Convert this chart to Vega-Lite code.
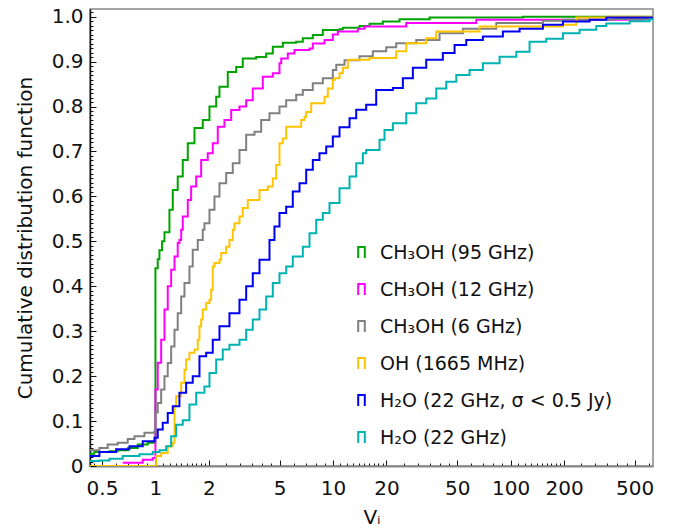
{
  "$schema": "https://vega.github.io/schema/vega-lite/v6.json",
  "width": 563,
  "height": 457,
  "autosize": {"type": "none"},
  "padding": {"left": 90, "top": 9, "right": 20, "bottom": 65},
  "config": {
    "font": "DejaVu Sans",
    "view": {"stroke": "#888888", "strokeWidth": 1.5},
    "axis": {"labelFont": "DejaVu Sans", "titleFont": "DejaVu Sans", "labelColor": "#111", "titleColor": "#111", "grid": false}
  },
  "data": {"values": [
    {"s": "CH₃OH (95 GHz)", "v": 0.3, "f": 0.027},
    {"s": "CH₃OH (95 GHz)", "v": 0.453, "f": 0.031},
    {"s": "CH₃OH (95 GHz)", "v": 0.55, "f": 0.033},
    {"s": "CH₃OH (95 GHz)", "v": 0.613, "f": 0.035},
    {"s": "CH₃OH (95 GHz)", "v": 0.7, "f": 0.04},
    {"s": "CH₃OH (95 GHz)", "v": 0.795, "f": 0.048},
    {"s": "CH₃OH (95 GHz)", "v": 0.905, "f": 0.052},
    {"s": "CH₃OH (95 GHz)", "v": 0.987, "f": 0.055},
    {"s": "CH₃OH (95 GHz)", "v": 1.0, "f": 0.44},
    {"s": "CH₃OH (95 GHz)", "v": 1.03, "f": 0.46},
    {"s": "CH₃OH (95 GHz)", "v": 1.053, "f": 0.48},
    {"s": "CH₃OH (95 GHz)", "v": 1.09, "f": 0.5},
    {"s": "CH₃OH (95 GHz)", "v": 1.124, "f": 0.52},
    {"s": "CH₃OH (95 GHz)", "v": 1.199, "f": 0.57},
    {"s": "CH₃OH (95 GHz)", "v": 1.252, "f": 0.614},
    {"s": "CH₃OH (95 GHz)", "v": 1.335, "f": 0.644},
    {"s": "CH₃OH (95 GHz)", "v": 1.425, "f": 0.681},
    {"s": "CH₃OH (95 GHz)", "v": 1.521, "f": 0.718},
    {"s": "CH₃OH (95 GHz)", "v": 1.659, "f": 0.752},
    {"s": "CH₃OH (95 GHz)", "v": 1.847, "f": 0.77},
    {"s": "CH₃OH (95 GHz)", "v": 2.015, "f": 0.8},
    {"s": "CH₃OH (95 GHz)", "v": 2.198, "f": 0.822},
    {"s": "CH₃OH (95 GHz)", "v": 2.294, "f": 0.844},
    {"s": "CH₃OH (95 GHz)", "v": 2.555, "f": 0.877},
    {"s": "CH₃OH (95 GHz)", "v": 2.849, "f": 0.888},
    {"s": "CH₃OH (95 GHz)", "v": 3.103, "f": 0.907},
    {"s": "CH₃OH (95 GHz)", "v": 3.692, "f": 0.91},
    {"s": "CH₃OH (95 GHz)", "v": 4.204, "f": 0.918},
    {"s": "CH₃OH (95 GHz)", "v": 4.58, "f": 0.933},
    {"s": "CH₃OH (95 GHz)", "v": 5.214, "f": 0.942},
    {"s": "CH₃OH (95 GHz)", "v": 6.204, "f": 0.944},
    {"s": "CH₃OH (95 GHz)", "v": 6.76, "f": 0.952},
    {"s": "CH₃OH (95 GHz)", "v": 7.696, "f": 0.959},
    {"s": "CH₃OH (95 GHz)", "v": 8.76, "f": 0.97},
    {"s": "CH₃OH (95 GHz)", "v": 10.88, "f": 0.972},
    {"s": "CH₃OH (95 GHz)", "v": 11.36, "f": 0.975},
    {"s": "CH₃OH (95 GHz)", "v": 14.1, "f": 0.979},
    {"s": "CH₃OH (95 GHz)", "v": 16.06, "f": 0.984},
    {"s": "CH₃OH (95 GHz)", "v": 19.08, "f": 0.989},
    {"s": "CH₃OH (95 GHz)", "v": 23.69, "f": 0.994},
    {"s": "CH₃OH (95 GHz)", "v": 34.98, "f": 0.998},
    {"s": "CH₃OH (95 GHz)", "v": 117.3, "f": 1.0},
    {"s": "CH₃OH (95 GHz)", "v": 700, "f": 1.0},

    {"s": "CH₃OH (12 GHz)", "v": 0.654, "f": 0.007},
    {"s": "CH₃OH (12 GHz)", "v": 0.848, "f": 0.014},
    {"s": "CH₃OH (12 GHz)", "v": 0.966, "f": 0.018},
    {"s": "CH₃OH (12 GHz)", "v": 1.0, "f": 0.17},
    {"s": "CH₃OH (12 GHz)", "v": 1.03, "f": 0.23},
    {"s": "CH₃OH (12 GHz)", "v": 1.077, "f": 0.281},
    {"s": "CH₃OH (12 GHz)", "v": 1.124, "f": 0.348},
    {"s": "CH₃OH (12 GHz)", "v": 1.173, "f": 0.4},
    {"s": "CH₃OH (12 GHz)", "v": 1.226, "f": 0.437},
    {"s": "CH₃OH (12 GHz)", "v": 1.28, "f": 0.466},
    {"s": "CH₃OH (12 GHz)", "v": 1.335, "f": 0.496},
    {"s": "CH₃OH (12 GHz)", "v": 1.365, "f": 0.503},
    {"s": "CH₃OH (12 GHz)", "v": 1.396, "f": 0.526},
    {"s": "CH₃OH (12 GHz)", "v": 1.425, "f": 0.555},
    {"s": "CH₃OH (12 GHz)", "v": 1.521, "f": 0.592},
    {"s": "CH₃OH (12 GHz)", "v": 1.589, "f": 0.622},
    {"s": "CH₃OH (12 GHz)", "v": 1.696, "f": 0.644},
    {"s": "CH₃OH (12 GHz)", "v": 1.809, "f": 0.681},
    {"s": "CH₃OH (12 GHz)", "v": 1.97, "f": 0.696},
    {"s": "CH₃OH (12 GHz)", "v": 2.103, "f": 0.718},
    {"s": "CH₃OH (12 GHz)", "v": 2.244, "f": 0.755},
    {"s": "CH₃OH (12 GHz)", "v": 2.447, "f": 0.77},
    {"s": "CH₃OH (12 GHz)", "v": 2.67, "f": 0.792},
    {"s": "CH₃OH (12 GHz)", "v": 2.973, "f": 0.8},
    {"s": "CH₃OH (12 GHz)", "v": 3.243, "f": 0.814},
    {"s": "CH₃OH (12 GHz)", "v": 3.533, "f": 0.84},
    {"s": "CH₃OH (12 GHz)", "v": 4.023, "f": 0.866},
    {"s": "CH₃OH (12 GHz)", "v": 4.58, "f": 0.874},
    {"s": "CH₃OH (12 GHz)", "v": 4.996, "f": 0.896},
    {"s": "CH₃OH (12 GHz)", "v": 5.108, "f": 0.907},
    {"s": "CH₃OH (12 GHz)", "v": 5.565, "f": 0.918},
    {"s": "CH₃OH (12 GHz)", "v": 6.069, "f": 0.926},
    {"s": "CH₃OH (12 GHz)", "v": 7.374, "f": 0.929},
    {"s": "CH₃OH (12 GHz)", "v": 7.696, "f": 0.94},
    {"s": "CH₃OH (12 GHz)", "v": 8.957, "f": 0.948},
    {"s": "CH₃OH (12 GHz)", "v": 9.975, "f": 0.96},
    {"s": "CH₃OH (12 GHz)", "v": 10.64, "f": 0.967},
    {"s": "CH₃OH (12 GHz)", "v": 13.8, "f": 0.973},
    {"s": "CH₃OH (12 GHz)", "v": 15.05, "f": 0.978},
    {"s": "CH₃OH (12 GHz)", "v": 25.85, "f": 0.986},
    {"s": "CH₃OH (12 GHz)", "v": 64.1, "f": 0.993},
    {"s": "CH₃OH (12 GHz)", "v": 556.5, "f": 0.997},
    {"s": "CH₃OH (12 GHz)", "v": 700, "f": 0.997},

    {"s": "CH₃OH (6 GHz)", "v": 0.3, "f": 0.035},
    {"s": "CH₃OH (6 GHz)", "v": 0.4836, "f": 0.04},
    {"s": "CH₃OH (6 GHz)", "v": 0.5385, "f": 0.048},
    {"s": "CH₃OH (6 GHz)", "v": 0.6133, "f": 0.052},
    {"s": "CH₃OH (6 GHz)", "v": 0.698, "f": 0.06},
    {"s": "CH₃OH (6 GHz)", "v": 0.7615, "f": 0.066},
    {"s": "CH₃OH (6 GHz)", "v": 0.867, "f": 0.074},
    {"s": "CH₃OH (6 GHz)", "v": 0.987, "f": 0.076},
    {"s": "CH₃OH (6 GHz)", "v": 1.0, "f": 0.119},
    {"s": "CH₃OH (6 GHz)", "v": 1.03, "f": 0.14},
    {"s": "CH₃OH (6 GHz)", "v": 1.077, "f": 0.17},
    {"s": "CH₃OH (6 GHz)", "v": 1.124, "f": 0.2},
    {"s": "CH₃OH (6 GHz)", "v": 1.173, "f": 0.229},
    {"s": "CH₃OH (6 GHz)", "v": 1.226, "f": 0.266},
    {"s": "CH₃OH (6 GHz)", "v": 1.28, "f": 0.303},
    {"s": "CH₃OH (6 GHz)", "v": 1.335, "f": 0.34},
    {"s": "CH₃OH (6 GHz)", "v": 1.396, "f": 0.377},
    {"s": "CH₃OH (6 GHz)", "v": 1.457, "f": 0.407},
    {"s": "CH₃OH (6 GHz)", "v": 1.554, "f": 0.444},
    {"s": "CH₃OH (6 GHz)", "v": 1.622, "f": 0.481},
    {"s": "CH₃OH (6 GHz)", "v": 1.731, "f": 0.503},
    {"s": "CH₃OH (6 GHz)", "v": 1.847, "f": 0.526},
    {"s": "CH₃OH (6 GHz)", "v": 1.888, "f": 0.54},
    {"s": "CH₃OH (6 GHz)", "v": 2.015, "f": 0.57},
    {"s": "CH₃OH (6 GHz)", "v": 2.15, "f": 0.6},
    {"s": "CH₃OH (6 GHz)", "v": 2.294, "f": 0.629},
    {"s": "CH₃OH (6 GHz)", "v": 2.502, "f": 0.652},
    {"s": "CH₃OH (6 GHz)", "v": 2.726, "f": 0.674},
    {"s": "CH₃OH (6 GHz)", "v": 2.973, "f": 0.703},
    {"s": "CH₃OH (6 GHz)", "v": 3.243, "f": 0.737},
    {"s": "CH₃OH (6 GHz)", "v": 3.612, "f": 0.744},
    {"s": "CH₃OH (6 GHz)", "v": 3.94, "f": 0.77},
    {"s": "CH₃OH (6 GHz)", "v": 4.388, "f": 0.785},
    {"s": "CH₃OH (6 GHz)", "v": 4.996, "f": 0.8},
    {"s": "CH₃OH (6 GHz)", "v": 5.449, "f": 0.814},
    {"s": "CH₃OH (6 GHz)", "v": 6.204, "f": 0.826},
    {"s": "CH₃OH (6 GHz)", "v": 6.76, "f": 0.837},
    {"s": "CH₃OH (6 GHz)", "v": 7.696, "f": 0.852},
    {"s": "CH₃OH (6 GHz)", "v": 8.76, "f": 0.863},
    {"s": "CH₃OH (6 GHz)", "v": 9.975, "f": 0.881},
    {"s": "CH₃OH (6 GHz)", "v": 10.43, "f": 0.893},
    {"s": "CH₃OH (6 GHz)", "v": 11.61, "f": 0.903},
    {"s": "CH₃OH (6 GHz)", "v": 14.1, "f": 0.912},
    {"s": "CH₃OH (6 GHz)", "v": 16.76, "f": 0.923},
    {"s": "CH₃OH (6 GHz)", "v": 19.94, "f": 0.932},
    {"s": "CH₃OH (6 GHz)", "v": 22.7, "f": 0.941},
    {"s": "CH₃OH (6 GHz)", "v": 29.43, "f": 0.948},
    {"s": "CH₃OH (6 GHz)", "v": 39.81, "f": 0.963},
    {"s": "CH₃OH (6 GHz)", "v": 53.86, "f": 0.973},
    {"s": "CH₃OH (6 GHz)", "v": 83.07, "f": 0.986},
    {"s": "CH₃OH (6 GHz)", "v": 152.1, "f": 0.991},
    {"s": "CH₃OH (6 GHz)", "v": 197.1, "f": 0.993},
    {"s": "CH₃OH (6 GHz)", "v": 377, "f": 0.995},
    {"s": "CH₃OH (6 GHz)", "v": 600, "f": 0.999},
    {"s": "CH₃OH (6 GHz)", "v": 700, "f": 0.999},

    {"s": "OH (1665 MHz)", "v": 0.3, "f": 0.0},
    {"s": "OH (1665 MHz)", "v": 1.009, "f": 0.022},
    {"s": "OH (1665 MHz)", "v": 1.077, "f": 0.029},
    {"s": "OH (1665 MHz)", "v": 1.173, "f": 0.044},
    {"s": "OH (1665 MHz)", "v": 1.252, "f": 0.052},
    {"s": "OH (1665 MHz)", "v": 1.28, "f": 0.133},
    {"s": "OH (1665 MHz)", "v": 1.308, "f": 0.155},
    {"s": "OH (1665 MHz)", "v": 1.396, "f": 0.185},
    {"s": "OH (1665 MHz)", "v": 1.457, "f": 0.214},
    {"s": "OH (1665 MHz)", "v": 1.489, "f": 0.237},
    {"s": "OH (1665 MHz)", "v": 1.554, "f": 0.252},
    {"s": "OH (1665 MHz)", "v": 1.659, "f": 0.259},
    {"s": "OH (1665 MHz)", "v": 1.731, "f": 0.281},
    {"s": "OH (1665 MHz)", "v": 1.77, "f": 0.311},
    {"s": "OH (1665 MHz)", "v": 1.809, "f": 0.326},
    {"s": "OH (1665 MHz)", "v": 1.847, "f": 0.348},
    {"s": "OH (1665 MHz)", "v": 1.931, "f": 0.363},
    {"s": "OH (1665 MHz)", "v": 2.015, "f": 0.37},
    {"s": "OH (1665 MHz)", "v": 2.06, "f": 0.392},
    {"s": "OH (1665 MHz)", "v": 2.103, "f": 0.444},
    {"s": "OH (1665 MHz)", "v": 2.15, "f": 0.452},
    {"s": "OH (1665 MHz)", "v": 2.294, "f": 0.459},
    {"s": "OH (1665 MHz)", "v": 2.345, "f": 0.474},
    {"s": "OH (1665 MHz)", "v": 2.502, "f": 0.488},
    {"s": "OH (1665 MHz)", "v": 2.611, "f": 0.503},
    {"s": "OH (1665 MHz)", "v": 2.726, "f": 0.526},
    {"s": "OH (1665 MHz)", "v": 2.787, "f": 0.54},
    {"s": "OH (1665 MHz)", "v": 2.973, "f": 0.555},
    {"s": "OH (1665 MHz)", "v": 3.103, "f": 0.574},
    {"s": "OH (1665 MHz)", "v": 3.311, "f": 0.592},
    {"s": "OH (1665 MHz)", "v": 3.854, "f": 0.614},
    {"s": "OH (1665 MHz)", "v": 4.293, "f": 0.622},
    {"s": "OH (1665 MHz)", "v": 4.58, "f": 0.64},
    {"s": "OH (1665 MHz)", "v": 4.786, "f": 0.67},
    {"s": "OH (1665 MHz)", "v": 4.996, "f": 0.718},
    {"s": "OH (1665 MHz)", "v": 5.214, "f": 0.729},
    {"s": "OH (1665 MHz)", "v": 5.449, "f": 0.755},
    {"s": "OH (1665 MHz)", "v": 6.62, "f": 0.77},
    {"s": "OH (1665 MHz)", "v": 6.911, "f": 0.777},
    {"s": "OH (1665 MHz)", "v": 7.063, "f": 0.788},
    {"s": "OH (1665 MHz)", "v": 7.538, "f": 0.807},
    {"s": "OH (1665 MHz)", "v": 8.957, "f": 0.822},
    {"s": "OH (1665 MHz)", "v": 9.348, "f": 0.84},
    {"s": "OH (1665 MHz)", "v": 9.975, "f": 0.859},
    {"s": "OH (1665 MHz)", "v": 10.2, "f": 0.863},
    {"s": "OH (1665 MHz)", "v": 10.88, "f": 0.874},
    {"s": "OH (1665 MHz)", "v": 11.36, "f": 0.886},
    {"s": "OH (1665 MHz)", "v": 12.12, "f": 0.904},
    {"s": "OH (1665 MHz)", "v": 16.06, "f": 0.908},
    {"s": "OH (1665 MHz)", "v": 22.7, "f": 0.923},
    {"s": "OH (1665 MHz)", "v": 25.85, "f": 0.941},
    {"s": "OH (1665 MHz)", "v": 33.5, "f": 0.952},
    {"s": "OH (1665 MHz)", "v": 38.14, "f": 0.967},
    {"s": "OH (1665 MHz)", "v": 66.91, "f": 0.978},
    {"s": "OH (1665 MHz)", "v": 197.1, "f": 0.982},
    {"s": "OH (1665 MHz)", "v": 234.5, "f": 0.998},
    {"s": "OH (1665 MHz)", "v": 346.1, "f": 1.0},
    {"s": "OH (1665 MHz)", "v": 700, "f": 1.0},

    {"s": "H₂O (22 GHz, σ < 0.5 Jy)", "v": 0.3, "f": 0.022},
    {"s": "H₂O (22 GHz, σ < 0.5 Jy)", "v": 0.4836, "f": 0.031},
    {"s": "H₂O (22 GHz, σ < 0.5 Jy)", "v": 0.6006, "f": 0.037},
    {"s": "H₂O (22 GHz, σ < 0.5 Jy)", "v": 0.7139, "f": 0.044},
    {"s": "H₂O (22 GHz, σ < 0.5 Jy)", "v": 0.848, "f": 0.055},
    {"s": "H₂O (22 GHz, σ < 0.5 Jy)", "v": 0.987, "f": 0.063},
    {"s": "H₂O (22 GHz, σ < 0.5 Jy)", "v": 1.03, "f": 0.081},
    {"s": "H₂O (22 GHz, σ < 0.5 Jy)", "v": 1.099, "f": 0.096},
    {"s": "H₂O (22 GHz, σ < 0.5 Jy)", "v": 1.173, "f": 0.118},
    {"s": "H₂O (22 GHz, σ < 0.5 Jy)", "v": 1.252, "f": 0.133},
    {"s": "H₂O (22 GHz, σ < 0.5 Jy)", "v": 1.365, "f": 0.163},
    {"s": "H₂O (22 GHz, σ < 0.5 Jy)", "v": 1.489, "f": 0.185},
    {"s": "H₂O (22 GHz, σ < 0.5 Jy)", "v": 1.622, "f": 0.2},
    {"s": "H₂O (22 GHz, σ < 0.5 Jy)", "v": 1.77, "f": 0.244},
    {"s": "H₂O (22 GHz, σ < 0.5 Jy)", "v": 1.931, "f": 0.252},
    {"s": "H₂O (22 GHz, σ < 0.5 Jy)", "v": 2.103, "f": 0.281},
    {"s": "H₂O (22 GHz, σ < 0.5 Jy)", "v": 2.294, "f": 0.311},
    {"s": "H₂O (22 GHz, σ < 0.5 Jy)", "v": 2.611, "f": 0.34},
    {"s": "H₂O (22 GHz, σ < 0.5 Jy)", "v": 2.973, "f": 0.37},
    {"s": "H₂O (22 GHz, σ < 0.5 Jy)", "v": 3.243, "f": 0.4},
    {"s": "H₂O (22 GHz, σ < 0.5 Jy)", "v": 3.533, "f": 0.429},
    {"s": "H₂O (22 GHz, σ < 0.5 Jy)", "v": 3.854, "f": 0.459},
    {"s": "H₂O (22 GHz, σ < 0.5 Jy)", "v": 4.388, "f": 0.503},
    {"s": "H₂O (22 GHz, σ < 0.5 Jy)", "v": 4.68, "f": 0.533},
    {"s": "H₂O (22 GHz, σ < 0.5 Jy)", "v": 4.996, "f": 0.563},
    {"s": "H₂O (22 GHz, σ < 0.5 Jy)", "v": 5.449, "f": 0.577},
    {"s": "H₂O (22 GHz, σ < 0.5 Jy)", "v": 5.936, "f": 0.611},
    {"s": "H₂O (22 GHz, σ < 0.5 Jy)", "v": 6.477, "f": 0.629},
    {"s": "H₂O (22 GHz, σ < 0.5 Jy)", "v": 7.063, "f": 0.659},
    {"s": "H₂O (22 GHz, σ < 0.5 Jy)", "v": 7.696, "f": 0.681},
    {"s": "H₂O (22 GHz, σ < 0.5 Jy)", "v": 8.39, "f": 0.696},
    {"s": "H₂O (22 GHz, σ < 0.5 Jy)", "v": 9.156, "f": 0.711},
    {"s": "H₂O (22 GHz, σ < 0.5 Jy)", "v": 9.975, "f": 0.733},
    {"s": "H₂O (22 GHz, σ < 0.5 Jy)", "v": 10.88, "f": 0.754},
    {"s": "H₂O (22 GHz, σ < 0.5 Jy)", "v": 12.39, "f": 0.774},
    {"s": "H₂O (22 GHz, σ < 0.5 Jy)", "v": 13.51, "f": 0.793},
    {"s": "H₂O (22 GHz, σ < 0.5 Jy)", "v": 15.38, "f": 0.804},
    {"s": "H₂O (22 GHz, σ < 0.5 Jy)", "v": 17.51, "f": 0.837},
    {"s": "H₂O (22 GHz, σ < 0.5 Jy)", "v": 21.73, "f": 0.841},
    {"s": "H₂O (22 GHz, σ < 0.5 Jy)", "v": 24.74, "f": 0.863},
    {"s": "H₂O (22 GHz, σ < 0.5 Jy)", "v": 28.17, "f": 0.886},
    {"s": "H₂O (22 GHz, σ < 0.5 Jy)", "v": 33.5, "f": 0.904},
    {"s": "H₂O (22 GHz, σ < 0.5 Jy)", "v": 41.55, "f": 0.919},
    {"s": "H₂O (22 GHz, σ < 0.5 Jy)", "v": 48.37, "f": 0.937},
    {"s": "H₂O (22 GHz, σ < 0.5 Jy)", "v": 56.28, "f": 0.948},
    {"s": "H₂O (22 GHz, σ < 0.5 Jy)", "v": 69.82, "f": 0.956},
    {"s": "H₂O (22 GHz, σ < 0.5 Jy)", "v": 90.5, "f": 0.967},
    {"s": "H₂O (22 GHz, σ < 0.5 Jy)", "v": 112.4, "f": 0.973},
    {"s": "H₂O (22 GHz, σ < 0.5 Jy)", "v": 152.1, "f": 0.982},
    {"s": "H₂O (22 GHz, σ < 0.5 Jy)", "v": 197.1, "f": 0.989},
    {"s": "H₂O (22 GHz, σ < 0.5 Jy)", "v": 278.7, "f": 0.993},
    {"s": "H₂O (22 GHz, σ < 0.5 Jy)", "v": 346.1, "f": 0.998},
    {"s": "H₂O (22 GHz, σ < 0.5 Jy)", "v": 700, "f": 0.998},

    {"s": "H₂O (22 GHz)", "v": 0.3, "f": 0.011},
    {"s": "H₂O (22 GHz)", "v": 0.4836, "f": 0.012},
    {"s": "H₂O (22 GHz)", "v": 0.5506, "f": 0.016},
    {"s": "H₂O (22 GHz)", "v": 0.6542, "f": 0.022},
    {"s": "H₂O (22 GHz)", "v": 0.8127, "f": 0.026},
    {"s": "H₂O (22 GHz)", "v": 0.9656, "f": 0.031},
    {"s": "H₂O (22 GHz)", "v": 1.053, "f": 0.035},
    {"s": "H₂O (22 GHz)", "v": 1.149, "f": 0.044},
    {"s": "H₂O (22 GHz)", "v": 1.226, "f": 0.066},
    {"s": "H₂O (22 GHz)", "v": 1.308, "f": 0.092},
    {"s": "H₂O (22 GHz)", "v": 1.425, "f": 0.102},
    {"s": "H₂O (22 GHz)", "v": 1.554, "f": 0.137},
    {"s": "H₂O (22 GHz)", "v": 1.696, "f": 0.163},
    {"s": "H₂O (22 GHz)", "v": 1.888, "f": 0.177},
    {"s": "H₂O (22 GHz)", "v": 2.015, "f": 0.207},
    {"s": "H₂O (22 GHz)", "v": 2.198, "f": 0.237},
    {"s": "H₂O (22 GHz)", "v": 2.394, "f": 0.259},
    {"s": "H₂O (22 GHz)", "v": 2.611, "f": 0.27},
    {"s": "H₂O (22 GHz)", "v": 2.973, "f": 0.281},
    {"s": "H₂O (22 GHz)", "v": 3.243, "f": 0.303},
    {"s": "H₂O (22 GHz)", "v": 3.533, "f": 0.326},
    {"s": "H₂O (22 GHz)", "v": 3.854, "f": 0.348},
    {"s": "H₂O (22 GHz)", "v": 4.204, "f": 0.377},
    {"s": "H₂O (22 GHz)", "v": 4.58, "f": 0.407},
    {"s": "H₂O (22 GHz)", "v": 4.996, "f": 0.429},
    {"s": "H₂O (22 GHz)", "v": 5.449, "f": 0.444},
    {"s": "H₂O (22 GHz)", "v": 5.936, "f": 0.466},
    {"s": "H₂O (22 GHz)", "v": 6.76, "f": 0.488},
    {"s": "H₂O (22 GHz)", "v": 7.374, "f": 0.518},
    {"s": "H₂O (22 GHz)", "v": 8.042, "f": 0.548},
    {"s": "H₂O (22 GHz)", "v": 8.76, "f": 0.563},
    {"s": "H₂O (22 GHz)", "v": 9.556, "f": 0.585},
    {"s": "H₂O (22 GHz)", "v": 10.88, "f": 0.618},
    {"s": "H₂O (22 GHz)", "v": 12.39, "f": 0.644},
    {"s": "H₂O (22 GHz)", "v": 13.51, "f": 0.674},
    {"s": "H₂O (22 GHz)", "v": 14.72, "f": 0.696},
    {"s": "H₂O (22 GHz)", "v": 15.38, "f": 0.703},
    {"s": "H₂O (22 GHz)", "v": 18.28, "f": 0.726},
    {"s": "H₂O (22 GHz)", "v": 19.5, "f": 0.748},
    {"s": "H₂O (22 GHz)", "v": 21.73, "f": 0.763},
    {"s": "H₂O (22 GHz)", "v": 25.85, "f": 0.785},
    {"s": "H₂O (22 GHz)", "v": 29.43, "f": 0.807},
    {"s": "H₂O (22 GHz)", "v": 33.5, "f": 0.818},
    {"s": "H₂O (22 GHz)", "v": 38.14, "f": 0.84},
    {"s": "H₂O (22 GHz)", "v": 43.43, "f": 0.855},
    {"s": "H₂O (22 GHz)", "v": 49.45, "f": 0.87},
    {"s": "H₂O (22 GHz)", "v": 58.75, "f": 0.881},
    {"s": "H₂O (22 GHz)", "v": 69.82, "f": 0.896},
    {"s": "H₂O (22 GHz)", "v": 86.7, "f": 0.911},
    {"s": "H₂O (22 GHz)", "v": 107.7, "f": 0.922},
    {"s": "H₂O (22 GHz)", "v": 127.9, "f": 0.944},
    {"s": "H₂O (22 GHz)", "v": 158.9, "f": 0.951},
    {"s": "H₂O (22 GHz)", "v": 197.1, "f": 0.963},
    {"s": "H₂O (22 GHz)", "v": 244.7, "f": 0.971},
    {"s": "H₂O (22 GHz)", "v": 304, "f": 0.979},
    {"s": "H₂O (22 GHz)", "v": 346.1, "f": 0.985},
    {"s": "H₂O (22 GHz)", "v": 468.1, "f": 0.99},
    {"s": "H₂O (22 GHz)", "v": 606.9, "f": 0.994},
    {"s": "H₂O (22 GHz)", "v": 700, "f": 0.994}
  ]},
  "mark": {"type": "line", "interpolate": "step-after", "strokeWidth": 2, "clip": true},
  "encoding": {
    "x": {
      "field": "v", "type": "quantitative",
      "scale": {"type": "log", "domain": [0.428, 634], "nice": false},
      "axis": {
        "title": "Vᵢ", "titleFontSize": 20, "titleFontWeight": "normal", "titlePadding": 6,
        "values": [0.45,0.5,0.6,0.7,0.8,0.9,1,1.1,1.2,1.3,1.4,1.5,1.6,1.7,1.8,1.9,2,2.5,3,3.5,4,4.5,5,6,7,8,9,10,11,12,13,14,15,16,17,18,19,20,25,30,35,40,45,50,60,70,80,90,100,110,120,130,140,150,160,170,180,190,200,250,300,350,400,450,500,600],
        "labelExpr": "indexof([0.5,1,2,5,10,20,50,100,200,500], datum.value) >= 0 ? toString(datum.value) : ''",
        "labelOverlap": false, "labelFlush": false, "labelBound": false,
        "labelFontSize": 20, "labelPadding": 18,
        "tickSize": {"condition": {"test": "indexof([0.5,1,2,5,10,20,50,100,200,500], datum.value) >= 0", "value": -6}, "value": -3},
        "tickColor": "#111", "tickWidth": 1,
        "domainColor": "#888888", "domainWidth": 2
      }
    },
    "y": {
      "field": "f", "type": "quantitative",
      "scale": {"domain": [0, 1.017], "nice": false},
      "axis": {
        "title": "Cumulative distribution function", "titleFontSize": 20, "titleFontWeight": "normal", "titlePadding": 16,
        "values": [0,0.01,0.02,0.03,0.04,0.05,0.06,0.07,0.08,0.09,0.1,0.11,0.12,0.13,0.14,0.15,0.16,0.17,0.18,0.19,0.2,0.21,0.22,0.23,0.24,0.25,0.26,0.27,0.28,0.29,0.3,0.31,0.32,0.33,0.34,0.35,0.36,0.37,0.38,0.39,0.4,0.41,0.42,0.43,0.44,0.45,0.46,0.47,0.48,0.49,0.5,0.51,0.52,0.53,0.54,0.55,0.56,0.57,0.58,0.59,0.6,0.61,0.62,0.63,0.64,0.65,0.66,0.67,0.68,0.69,0.7,0.71,0.72,0.73,0.74,0.75,0.76,0.77,0.78,0.79,0.8,0.81,0.82,0.83,0.84,0.85,0.86,0.87,0.88,0.89,0.9,0.91,0.92,0.93,0.94,0.95,0.96,0.97,0.98,0.99,1.0,1.01],
        "labelExpr": "abs(datum.value*10 - round(datum.value*10)) < 0.0001 ? (datum.value == 0 ? '0' : format(datum.value, '.1f')) : ''",
        "labelOverlap": false, "labelFlush": false, "labelBound": false,
        "labelFontSize": 20, "labelPadding": 13,
        "tickSize": {"condition": {"test": "abs(datum.value*10 - round(datum.value*10)) < 0.0001", "value": -6}, "value": -3},
        "tickColor": "#111", "tickWidth": 1,
        "domainColor": "#111", "domainWidth": 1.5
      }
    },
    "color": {
      "field": "s", "type": "nominal",
      "scale": {
        "domain": ["CH₃OH (95 GHz)", "CH₃OH (12 GHz)", "CH₃OH (6 GHz)", "OH (1665 MHz)", "H₂O (22 GHz, σ < 0.5 Jy)", "H₂O (22 GHz)"],
        "range": ["#00a300", "#ff00ff", "#808080", "#ffc400", "#0000f0", "#00b3b3"]
      },
      "legend": {
        "title": null, "orient": "none", "legendX": 262, "legendY": 234,
        "symbolType": "M-0.6,1L-0.6,-1L0.6,-1L0.6,1", "symbolSize": 121, "symbolStrokeWidth": 2,
        "symbolFillColor": "transparent",
        "labelFontSize": 19, "labelFont": "DejaVu Sans", "labelColor": "#111", "labelOffset": 9, "labelLimit": 400,
        "rowPadding": 17
      }
    }
  }
}
